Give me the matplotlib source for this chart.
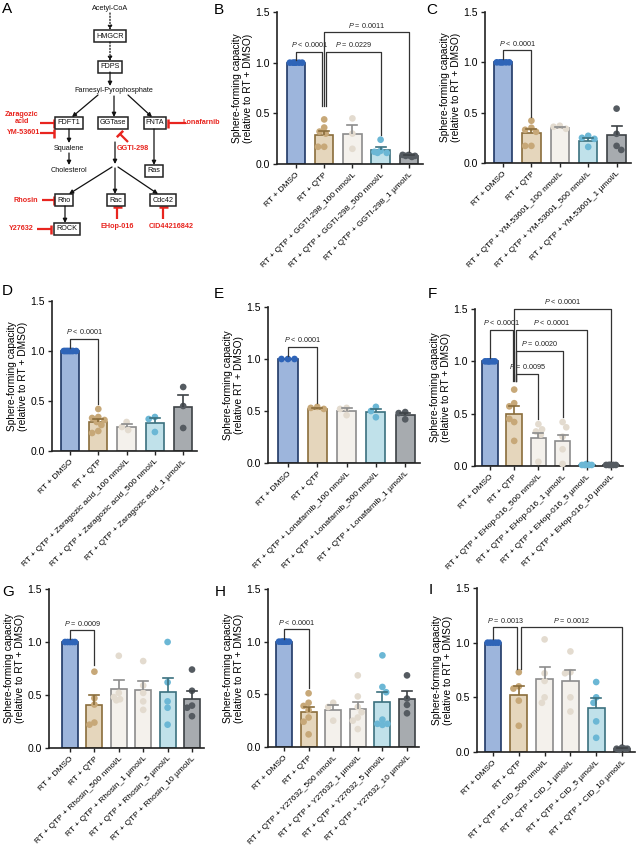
import matplotlib
matplotlib.use('Agg')
import matplotlib.pyplot as plt
import numpy as np

plt.rcParams['font.family'] = ['Liberation Sans', 'DejaVu Sans']
plt.rcParams['mathtext.fontset'] = 'custom'
plt.rcParams['mathtext.it'] = 'Liberation Sans:italic'
plt.rcParams['mathtext.rm'] = 'Liberation Sans'

W, H = 638, 850
fig = plt.figure(figsize=(W / 100, H / 100), dpi=100)

YLABEL = "Sphere-forming capacity\n(relative to RT + DMSO)"
YLABEL_E = "Sphere-forming capacity\n(relative RT + DMSO)"

# ---------------- data ----------------
B_labels = ["RT + DMSO", "RT + QTP", "RT + QTP + GGTI-298_100 nmol/L",
            "RT + QTP + GGTI-298_500 nmol/L", "RT + QTP + GGTI-298_1 µmol/L"]
B_means = [1.0, 0.29, 0.30, 0.14, 0.08]
B_sems = [0.0, 0.04, 0.08, 0.03, 0.01]
B_points = [[1, 1, 1, 1, 1, 1], [0.44, 0.36, 0.32, 0.30, 0.17, 0.17], [0.45, 0.30, 0.15],
            [0.24, 0.13, 0.12, 0.11, 0.11], [0.09, 0.09, 0.08, 0.08, 0.07, 0.08]]

C_labels = ["RT + DMSO", "RT + QTP", "RT + QTP + YM-53601_100 nmol/L",
            "RT + QTP + YM-53601_500 nmol/L", "RT + QTP + YM-53601_1 µmol/L"]
C_means = [1.0, 0.30, 0.35, 0.22, 0.28]
C_sems = [0.0, 0.04, 0.01, 0.03, 0.09]
C_points = [[1, 1, 1, 1, 1, 1], [0.42, 0.35, 0.33, 0.31, 0.17, 0.17], [0.37, 0.36, 0.34],
            [0.27, 0.25, 0.24, 0.16], [0.54, 0.29, 0.17, 0.13]]

D_labels = ["RT + DMSO", "RT + QTP", "RT + QTP + Zaragozic acid_100 nmol/L",
            "RT + QTP + Zaragozic acid_500 nmol/L", "RT + QTP + Zaragozic acid_1 µmol/L"]
D_means = [1.0, 0.29, 0.24, 0.28, 0.44]
D_sems = [0.0, 0.03, 0.03, 0.05, 0.12]
D_points = [[1, 1, 1, 1, 1, 1, 1, 1], [0.42, 0.34, 0.33, 0.31, 0.29, 0.26, 0.20, 0.18],
            [0.29, 0.24, 0.21], [0.34, 0.32, 0.19], [0.64, 0.45, 0.23]]

E_labels = ["RT + DMSO", "RT + QTP", "RT + QTP + Lonafarnib_100 nmol/L",
            "RT + QTP + Lonafarnib_500 nmol/L", "RT + QTP + Lonafarnib_1 µmol/L"]
E_means = [1.0, 0.52, 0.50, 0.49, 0.46]
E_sems = [0.0, 0.01, 0.03, 0.03, 0.02]
E_points = [[1, 1, 1], [0.54, 0.53, 0.52], [0.53, 0.52, 0.46], [0.54, 0.50, 0.44], [0.49, 0.48, 0.42]]

F_labels = ["RT + DMSO", "RT + QTP", "RT + QTP + EHop-016_500 nmol/L", "RT + QTP + EHop-016_1 µmol/L",
            "RT + QTP + EHop-016_5 µmol/L", "RT + QTP + EHop-016_10 µmol/L"]
F_means = [1.0, 0.50, 0.27, 0.24, 0.01, 0.01]
F_sems = [0.0, 0.07, 0.05, 0.06, 0.003, 0.002]
F_points = [[1, 1, 1, 1, 1, 1], [0.73, 0.60, 0.57, 0.42, 0.45, 0.24], [0.40, 0.35, 0.33, 0.30, 0.04],
            [0.42, 0.37, 0.28, 0.16, 0.02], [0.02, 0.01, 0.01, 0.01, 0.01, 0.01],
            [0.01, 0.01, 0.01, 0.01, 0.01, 0.01]]

G_labels = ["RT + DMSO", "RT + QTP", "RT + QTP + Rhosin_500 nmol/L", "RT + QTP + Rhosin_1 µmol/L",
            "RT + QTP + Rhosin_5 µmol/L", "RT + QTP + Rhosin_10 µmol/L"]
G_means = [1.0, 0.41, 0.56, 0.55, 0.53, 0.46]
G_sems = [0.0, 0.09, 0.08, 0.08, 0.13, 0.08]
G_points = [[1, 1, 1, 1, 1], [0.72, 0.47, 0.41, 0.24, 0.22], [0.87, 0.52, 0.48, 0.46, 0.45],
            [0.82, 0.59, 0.52, 0.44, 0.36], [1.0, 0.62, 0.44, 0.38, 0.22], [0.74, 0.54, 0.40, 0.38, 0.30]]

H_labels = ["RT + DMSO", "RT + QTP", "RT + QTP + Y27632_500 nmol/L", "RT + QTP + Y27632_1 µmol/L",
            "RT + QTP + Y27632_5 µmol/L", "RT + QTP + Y27632_10 µmol/L"]
H_means = [1.0, 0.33, 0.35, 0.36, 0.43, 0.46]
H_sems = [0.0, 0.05, 0.05, 0.07, 0.09, 0.07]
H_points = [[1, 1, 1, 1, 1, 1, 1], [0.51, 0.42, 0.39, 0.35, 0.28, 0.24, 0.12], [0.42, 0.38, 0.25],
            [0.68, 0.48, 0.38, 0.33, 0.28, 0.25, 0.17], [0.87, 0.57, 0.52, 0.26, 0.22, 0.22, 0.21],
            [0.68, 0.46, 0.40, 0.32]]

I_labels = ["RT + DMSO", "RT + QTP", "RT + QTP + CID_500 nmol/L", "RT + QTP + CID_1 µmol/L",
            "RT + QTP + CID_5 µmol/L", "RT + QTP + CID_10 µmol/L"]
I_means = [1.0, 0.52, 0.67, 0.65, 0.40, 0.03]
I_sems = [0.0, 0.08, 0.11, 0.10, 0.09, 0.005]
I_points = [[1, 1, 1, 1, 1], [0.73, 0.60, 0.58, 0.47, 0.24], [1.03, 0.72, 0.65, 0.50, 0.45],
            [0.92, 0.73, 0.72, 0.50, 0.37], [0.64, 0.50, 0.45, 0.28, 0.13], [0.04, 0.03, 0.03, 0.02, 0.03]]

# ---------------- styles ----------------
PAL = {
    'dmso': dict(fill='#9db5dc', edge='#1f3866', pt='#2e64b8'),
    'qtp': dict(fill='#e5d6bc', edge='#8a6d3b', pt='#c7a878'),
    'light': dict(fill='#f4f1ec', edge='#8c8c8c', pt='#e3dbcf'),
    'blue': dict(fill='#c0e1ea', edge='#3b717f', pt='#6bb7d5'),
    'grey': dict(fill='#a7abaf', edge='#3d4246', pt='#555b61'),
}
COLS5 = ['dmso', 'qtp', 'light', 'blue', 'grey']
COLS6 = ['dmso', 'qtp', 'light', 'light', 'blue', 'grey']
RED = '#e8251f'


def ftext(x, y, s, **kw):
    fig.text(x / W, 1 - y / H, s, **kw)


def swarm(vals, sp, ypu, d, maxoff):
    cands = sorted(np.linspace(-maxoff, maxoff, 9), key=abs)
    placed, res = [], []
    for v in vals:
        vy = v * ypu
        best, bestd, bestc = None, -1, 0
        for c in cands:
            md = min([np.hypot(c - ox, vy - oy) for ox, oy in placed], default=1e9)
            if md >= d * 0.95:
                best = c
                break
            if md > bestd:
                bestd, bestc = md, c
        if best is None:
            best = bestc
        placed.append((best, vy))
        res.append(best / sp)
    return np.array(res)


def bar_panel(geom, labels, means, sems, points, cols, brackets, ylabel):
    left, top, bottom, first, sp = geom
    n = len(labels)
    x0 = -(first - left) / sp
    x1 = n - 1 + 0.5
    ax = fig.add_axes([left / W, 1 - bottom / H, (x1 - x0) * sp / W, (bottom - top) / H])
    ax.set_xlim(x0, x1)
    ax.set_ylim(0, 1.5)
    ypu = (bottom - top) / 1.5
    bw = 0.65
    for i in range(n):
        c = PAL[cols[i]]
        ax.bar(i, means[i], width=bw, color=c['fill'], edgecolor=c['edge'], linewidth=1.2, zorder=2)
        offs = swarm(points[i], sp, ypu, 6.3, bw * sp / 2 - 3)
        ax.scatter(offs + i, points[i], s=23, color=c['pt'], edgecolors='none', zorder=3, clip_on=False)
        if sems[i] > 0.004:
            cw = 5.0 / sp
            ax.plot([i, i], [means[i], means[i] + sems[i]], color=c['edge'], lw=1.2, zorder=4,
                    solid_capstyle='butt')
            ax.plot([i - cw, i + cw], [means[i] + sems[i]] * 2, color=c['edge'], lw=1.2, zorder=4)
    for (i, j, y, txt, di, dj, si, sj) in brackets:
        xi, xj = i + si, j + sj
        ax.plot([xi, xi, xj, xj], [di, y, y, dj], color='#333333', lw=0.9, zorder=5, clip_on=False)
        ax.annotate(txt, xy=((xi + xj) / 2, y), xytext=(0, 1.8), textcoords='offset points',
                    ha='center', va='bottom', fontsize=5.2, color='#222222', annotation_clip=False)
    for s in ['top', 'right']:
        ax.spines[s].set_visible(False)
    for s in ['left', 'bottom']:
        ax.spines[s].set_linewidth(1.2)
        ax.spines[s].set_color('#222222')
    ax.set_yticks([0, 0.5, 1.0, 1.5])
    ax.set_yticklabels(['0.0', '0.5', '1.0', '1.5'], fontsize=7.5)
    ax.set_xticks(range(n))
    ax.set_xticklabels(labels, rotation=45, ha='right', rotation_mode='anchor', fontsize=6)
    ax.tick_params(axis='both', length=3, width=1, color='#222222', pad=2)
    ax.set_ylabel(ylabel, fontsize=7.3, labelpad=2, linespacing=1.1)
    ax.patch.set_alpha(0)
    return ax


P = r'$\it{P}$'
B_br = [(0, 1, 1.11, P + ' < 0.0001', 1.03, 0.57, 0, -0.07),
        (1, 3, 1.11, P + ' = 0.0229', 0.57, 0.29, 0.07, 0),
        (1, 4, 1.30, P + ' = 0.0011', 0.57, 0.12, 0, 0)]
C_br = [(0, 1, 1.12, P + ' < 0.0001', 1.03, 0.46, 0, 0)]
D_br = [(0, 1, 1.12, P + ' < 0.0001', 1.03, 0.47, 0, 0)]
E_br = [(0, 1, 1.12, P + ' < 0.0001', 1.03, 0.58, 0, 0)]
F_br = [(1, 5, 1.50, P + ' < 0.0001', 0.81, 0.05, 0, 0),
        (0, 1, 1.30, P + ' < 0.0001', 1.03, 0.81, 0, -0.07),
        (1, 4, 1.30, P + ' < 0.0001', 0.81, 0.05, 0.07, 0),
        (1, 3, 1.10, P + ' = 0.0020', 0.81, 0.47, 0.07, 0),
        (1, 2, 0.88, P + ' = 0.0095', 0.81, 0.45, 0.07, 0)]
G_br = [(0, 1, 1.11, P + ' = 0.0009', 1.03, 0.78, 0, 0)]
H_br = [(0, 1, 1.12, P + ' < 0.0001', 1.03, 0.56, 0, 0)]
I_br = [(0, 1, 1.14, P + ' = 0.0013', 1.03, 0.76, 0, -0.07),
        (1, 5, 1.14, P + ' = 0.0012', 0.76, 0.07, 0.07, 0)]

bar_panel((277, 12, 164, 296, 28.2), B_labels, B_means, B_sems, B_points, COLS5, B_br, YLABEL)
bar_panel((485, 12, 163, 503, 28.4), C_labels, C_means, C_sems, C_points, COLS5, C_br, YLABEL)
bar_panel((52, 301, 451, 70, 28.3), D_labels, D_means, D_sems, D_points, COLS5, D_br, YLABEL)
bar_panel((268, 307, 463, 288, 29.3), E_labels, E_means, E_sems, E_points, COLS5, E_br, YLABEL_E)
bar_panel((475, 309, 466, 490, 24.2), F_labels, F_means, F_sems, F_points, COLS6, F_br, YLABEL)
bar_panel((49, 589, 748, 70, 24.4), G_labels, G_means, G_sems, G_points, COLS6, G_br, YLABEL)
bar_panel((268, 589, 747, 284, 24.6), H_labels, H_means, H_sems, H_points, COLS6, H_br, YLABEL)
bar_panel((477, 588, 752, 493, 25.8), I_labels, I_means, I_sems, I_points, COLS6, I_br, YLABEL)

# ---------------- panel A: pathway ----------------
axA = fig.add_axes([0, 1 - 250 / H, 215 / W, 250 / H])
axA.set_xlim(0, 215)
axA.set_ylim(250, 0)
axA.axis('off')

nodes = [('Acetyl-CoA', 110, 8, False), ('HMGCR', 110, 36, True), ('FDPS', 110, 67, True),
         ('Farnesyl-Pyrophosphate', 114, 91, False), ('FDFT1', 69, 123, True),
         ('GGTase', 113, 123, True), ('FNTA', 155, 123, True), ('Squalene', 69, 148, False),
         ('Cholesterol', 69, 170, False), ('Ras', 154, 171, True), ('Rho', 64, 200, True),
         ('Rac', 116, 200, True), ('Cdc42', 163, 200, True), ('ROCK', 67, 229, True)]
for s, x, y, boxed in nodes:
    kw = {}
    if boxed:
        kw['bbox'] = dict(boxstyle='square,pad=0.3', fc='white', ec='#222222', lw=1.1)
    axA.text(x, y, s, ha='center', va='center', fontsize=5.2, color='#111111', **kw)

arrows_dotted = [((110, 13), (110, 30)), ((110, 42), (110, 61))]
arrows_solid = [((110, 72), (110, 86)), ((98, 95), (72, 117)), ((114, 96), (114, 117)),
                ((128, 95), (152, 117)), ((69, 129), (69, 143)), ((69, 153), (69, 165)),
                ((115, 142), (115, 164)), ((112, 167), (69, 194)), ((115, 168), (115, 194)),
                ((118, 167), (158, 194)), ((154, 129), (154, 165)), ((65, 206), (65, 223))]
for (a, b) in arrows_dotted:
    axA.annotate('', xy=b, xytext=a, arrowprops=dict(arrowstyle='-|>', color='#111111', lw=0.9,
                                                     ls=(0, (1, 1.5)), mutation_scale=6, shrinkA=0, shrinkB=0))
for (a, b) in arrows_solid:
    axA.annotate('', xy=b, xytext=a, arrowprops=dict(arrowstyle='-|>', color='#111111', lw=0.9,
                                                     mutation_scale=6, shrinkA=0, shrinkB=0))

inhib = [((40, 123), (54, 123)), ((40, 133), (54, 133)), ((186, 123), (168, 123)),
         ((128, 142), (120, 134)), ((42, 200), (54, 200)), ((37, 229), (51, 229)),
         ((117, 219), (117, 207)), ((163, 219), (163, 207))]
for (a, b) in inhib:
    a, b = np.array(a, float), np.array(b, float)
    axA.plot([a[0], b[0]], [a[1], b[1]], color=RED, lw=1.6, solid_capstyle='butt')
    d = (b - a) / np.hypot(*(b - a))
    p = np.array([-d[1], d[0]]) * 4.5
    axA.plot([b[0] - p[0], b[0] + p[0]], [b[1] - p[1], b[1] + p[1]], color=RED, lw=1.8,
             solid_capstyle='butt')

red_labels = [('Zaragozic\nacid', 22, 118), ('YM-53601', 24, 133), ('Lonafarnib', 201, 123),
              ('GGTI-298', 133, 148), ('Rhosin', 26, 200), ('Y27632', 21, 229),
              ('EHop-016', 117, 226), ('CID44216842', 171, 226)]
for s, x, y in red_labels:
    axA.text(x, y, s, ha='center', va='center', fontsize=5.2, color=RED, fontweight='bold',
             linespacing=1.0)

# ---------------- panel letters ----------------
for s, x, y in [('A', 2, 2), ('B', 214, 3), ('C', 426, 3), ('D', 2, 284), ('E', 214, 287),
                ('F', 428, 287), ('G', 2, 585), ('H', 215, 585), ('I', 429, 583)]:
    ftext(x, y, s, fontsize=11, ha='left', va='top')

fig.savefig('out.png', dpi=100)
